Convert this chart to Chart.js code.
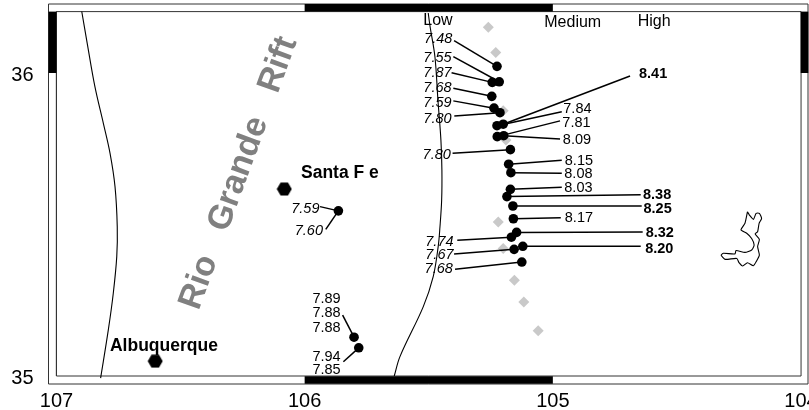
<!DOCTYPE html>
<html>
<head>
<meta charset="utf-8">
<style>
  html, body { margin: 0; padding: 0; background: #fff; overflow: hidden; }
  canvas { display: block; }
</style>
<script src="https://cdn.jsdelivr.net/npm/chart.js@4"></script>
</head>
<body>
<canvas id="map" width="809" height="410"></canvas>
<script>
// map extent, degrees (longitude runs west to east, so the axis is reversed)
const lonTicks = [107, 106, 105, 104];
const latTicks = [35, 36];
const lonWest = 107.032, lonEast = 103.972, latSouth = 34.9736, latNorth = 36.2277;
const innerWest = 107, innerEast = 104, innerSouth = 35, innerNorth = 36.2026;

// black circles: sampled stations
const stationLon = [105.225, 105.216, 105.244, 105.246, 105.237, 105.213, 105.200, 105.225, 105.198, 105.224, 105.171, 105.178, 105.169, 105.171, 105.185, 105.161, 105.159, 105.146, 105.167, 105.121, 105.156, 105.125, 105.864, 105.801, 105.782];
const stationLat = [36.022, 35.971, 35.969, 35.923, 35.884, 35.869, 35.831, 35.826, 35.793, 35.790, 35.747, 35.699, 35.671, 35.616, 35.592, 35.561, 35.519, 35.474, 35.458, 35.428, 35.418, 35.376, 35.545, 35.128, 35.093];

// grey diamonds
const diamondLon = [105.260, 105.230, 105.200, 105.189, 105.220, 105.200, 105.155, 105.117, 105.059];
const diamondLat = [36.151, 36.068, 35.875, 35.779, 35.508, 35.421, 35.316, 35.244, 35.149];

// cities
const cityNames = ["Santa F e", "Albuquerque"];
const cityLon = [106.082, 106.602];
const cityLat = [35.617, 35.049];
const cityLabelLon = [105.858, 106.567];
const cityLabelLat = [35.672, 35.101];

// values next to stations
const valueText = ["7.48", "7.55", "7.87", "7.68", "7.59", "7.80", "8.41", "7.84", "7.81", "8.09", "7.80", "8.15", "8.08", "8.03", "8.38", "8.25", "8.17", "8.32", "8.20", "7.74", "7.67", "7.68", "7.59", "7.60", "7.89", "7.88", "7.88", "7.94", "7.85"];
const valueClass = ["low", "low", "low", "low", "low", "low", "high", "med", "med", "med", "low", "med", "med", "med", "high", "high", "med", "high", "high", "low", "low", "low", "low", "low", "med", "med", "med", "med", "med"];
const valueLon = [105.462, 105.465, 105.465, 105.465, 105.465, 105.465, 104.596, 104.901, 104.905, 104.903, 105.468, 104.895, 104.897, 104.897, 104.580, 104.578, 104.895, 104.569, 104.571, 105.457, 105.457, 105.460, 105.997, 105.983, 105.912, 105.912, 105.912, 105.912, 105.912];
const valueLat = [36.115, 36.052, 36.002, 35.953, 35.905, 35.852, 35.999, 35.884, 35.837, 35.782, 35.733, 35.712, 35.670, 35.623, 35.601, 35.553, 35.524, 35.476, 35.423, 35.447, 35.403, 35.355, 35.555, 35.482, 35.256, 35.210, 35.163, 35.066, 35.023];

// leader lines, label end -> station index
const leaderStation = [0, 1, 2, 3, 4, 5, 6, 7, 9, 8, 10, 11, 12, 13, 14, 15, 16, 17, 18, 19, 20, 21, 22, 22, 23, 24];
const leaderLon = [105.398, 105.401, 105.408, 105.401, 105.401, 105.397, 104.689, 104.964, 104.971, 104.971, 105.404, 104.964, 104.964, 104.964, 104.646, 104.642, 104.968, 104.638, 105.385, 104.646, 105.398, 105.394, 105.938, 105.915, 105.847, 105.844];
const leaderLat = [36.107, 36.054, 36.001, 35.950, 35.908, 35.858, 35.990, 35.872, 35.842, 35.782, 35.735, 35.712, 35.669, 35.623, 35.598, 35.561, 35.522, 35.475, 35.448, 35.428, 35.403, 35.352, 35.559, 35.484, 35.201, 35.047];

// legend words along the top
const legendText = ["Low", "Medium", "High"];
const legendLon = [105.463, 104.920, 104.592];
const legendLat = [36.175, 36.170, 36.173];

// rift boundaries
const westRiftLon = [106.898, 106.876, 106.845, 106.811, 106.784, 106.764, 106.755, 106.757, 106.771, 106.791, 106.822];
const westRiftLat = [36.203, 36.098, 35.955, 35.834, 35.735, 35.625, 35.493, 35.394, 35.273, 35.152, 34.993];
const eastRiftLon = [105.502, 105.495, 105.475, 105.463, 105.451, 105.447, 105.448, 105.455, 105.462, 105.482, 105.522, 105.616, 105.639];
const eastRiftLat = [36.198, 36.155, 36.053, 35.911, 35.779, 35.680, 35.581, 35.490, 35.427, 35.328, 35.229, 35.064, 35.000];

// small closed outline on the east side
const outlineLon = [104.216, 104.208, 104.192, 104.181, 104.168, 104.159, 104.169, 104.175, 104.185, 104.168, 104.175, 104.168, 104.179, 104.192, 104.216, 104.235, 104.250, 104.259, 104.306, 104.322, 104.313, 104.266, 104.262, 104.226, 104.199, 104.189, 104.199, 104.219, 104.242, 104.226, 104.216];
const outlineLat = [35.542, 35.531, 35.517, 35.537, 35.537, 35.520, 35.504, 35.476, 35.469, 35.451, 35.427, 35.399, 35.380, 35.364, 35.374, 35.363, 35.374, 35.388, 35.385, 35.399, 35.405, 35.403, 35.414, 35.408, 35.416, 35.432, 35.454, 35.471, 35.482, 35.504, 35.542];

const riftLabel = "Rio   Grande   Rift";
const riftLabelLon = 106.265, riftLabelLat = 35.673;

const fontName = '"Liberation Sans", Arial, sans-serif';

const zip = (xs, ys) => xs.map((x, i) => ({ x, y: ys[i] }));

// hexagon marker for the cities
function makeHexagon() {
  const c = document.createElement("canvas");
  c.width = 16;
  c.height = 14;
  const g = c.getContext("2d");
  g.fillStyle = "#000";
  g.beginPath();
  g.moveTo(0.5, 7);
  g.lineTo(4.3, 0.4);
  g.lineTo(11.7, 0.4);
  g.lineTo(15.5, 7);
  g.lineTo(11.7, 13.6);
  g.lineTo(4.3, 13.6);
  g.closePath();
  g.fill();
  return c;
}

function line(data, color, width, extra) {
  return Object.assign({
    type: "scatter",
    data,
    showLine: true,
    borderColor: color,
    borderWidth: width,
    pointRadius: 0,
    fill: false,
    clip: false,
  }, extra);
}

const leaderSets = leaderStation.map((s, i) =>
  line([{ x: leaderLon[i], y: leaderLat[i] }, { x: stationLon[s], y: stationLat[s] }], "#000", 1.5)
);

const stripLat = latNorth - 0.0125, stripSouth = latSouth + 0.0132;
const stripWest = lonWest - 0.0161, stripEast = lonEast + 0.0141;

const datasets = [
  {
    type: "scatter",
    data: zip(cityLon, cityLat),
    pointStyle: makeHexagon(),
    pointRadius: 7,
    clip: false,
  },
  {
    type: "scatter",
    data: zip(stationLon, stationLat),
    pointStyle: "circle",
    pointRadius: 4.8,
    pointBorderWidth: 0,
    backgroundColor: "#000",
  },
  ...leaderSets,
  {
    type: "scatter",
    data: zip(diamondLon, diamondLat),
    pointStyle: "rectRot",
    pointRadius: 5.5,
    pointBorderWidth: 0,
    backgroundColor: "#c9c9c9",
  },
  line(zip(westRiftLon, westRiftLat), "#000", 1.1, { tension: 0.35 }),
  line(zip(eastRiftLon, eastRiftLat), "#000", 1.1, { tension: 0.35 }),
  line(zip(outlineLon, outlineLat), "#000", 1.1, { tension: 0.2 }),
  // black frame strips
  line(zip([106, 105], [stripLat, stripLat]), "#000", 7.6),
  line(zip([106, 105], [stripSouth, stripSouth]), "#000", 7.6),
  line(zip([stripWest, stripWest], [36, innerNorth]), "#000", 7.8),
  line(zip([stripEast, stripEast], [36, innerNorth]), "#000", 7.6),
  // inner and outer frame
  line(zip([innerWest, innerEast, innerEast, innerWest, innerWest], [innerSouth, innerSouth, innerNorth, innerNorth, innerSouth]), "#333", 1),
  line(zip([lonWest, lonEast, lonEast, lonWest, lonWest], [latSouth, latSouth, latNorth, latNorth, latSouth]), "#333", 1),
];

const mapText = {
  id: "mapText",
  afterDatasetsDraw(chart) {
    const { ctx, scales } = chart;
    const px = (lon) => scales.x.getPixelForValue(lon);
    const py = (lat) => scales.y.getPixelForValue(lat) + 1;
    ctx.save();
    ctx.textAlign = "center";
    ctx.textBaseline = "middle";

    ctx.fillStyle = "#000";
    valueText.forEach((t, i) => {
      const cls = valueClass[i];
      if (cls === "low") ctx.font = `italic 14.5px ${fontName}`;
      else if (cls === "high") ctx.font = `bold 14.5px ${fontName}`;
      else ctx.font = `14.5px ${fontName}`;
      ctx.fillText(t, px(valueLon[i]), py(valueLat[i]));
    });

    ctx.font = `16px ${fontName}`;
    legendText.forEach((t, i) => ctx.fillText(t, px(legendLon[i]), py(legendLat[i])));

    ctx.font = `bold 17.5px ${fontName}`;
    cityNames.forEach((t, i) => ctx.fillText(t, px(cityLabelLon[i]), py(cityLabelLat[i])));

    // rotated gray title following the rift
    ctx.translate(px(riftLabelLon), py(riftLabelLat));
    ctx.rotate(-70 * Math.PI / 180);
    ctx.fillStyle = "#808080";
    ctx.font = `bold 34px ${fontName}`;
    ctx.fillText(riftLabel, 0, 0);
    ctx.restore();
  },
};

// tick labels may overhang the plot, so the axes must not ask the layout for room
const noPadding = () => ({ left: 0, top: 0, right: 0, bottom: 0 });

new Chart(document.getElementById("map"), {
  type: "scatter",
  data: { datasets },
  plugins: [mapText],
  options: {
    responsive: false,
    animation: false,
    events: [],
    layout: { autoPadding: false, padding: { left: 0, top: 4, right: 1, bottom: 0 } },
    plugins: { legend: { display: false }, tooltip: { enabled: false } },
    scales: {
      x: {
        type: "linear",
        reverse: true,
        min: lonEast,
        max: lonWest,
        grid: { display: false, drawTicks: false },
        border: { display: false },
        afterBuildTicks(axis) { axis.ticks = lonTicks.map((value) => ({ value })); },
        afterFit(axis) {
          axis.height = 26;
          axis.getPadding = noPadding;
        },
        ticks: {
          autoSkip: false,
          maxRotation: 0,
          padding: 5,
          color: "#000",
          font: { family: fontName, size: 20 },
          callback: (v) => String(v),
        },
      },
      y: {
        type: "linear",
        min: latSouth,
        max: latNorth,
        grid: { display: false, drawTicks: false },
        border: { display: false },
        afterBuildTicks(axis) { axis.ticks = latTicks.map((value) => ({ value })); },
        afterFit(axis) {
          axis.width = 48.5;
          axis.getPadding = noPadding;
        },
        ticks: {
          padding: 15,
          labelOffset: 2,
          color: "#000",
          font: { family: fontName, size: 20 },
          callback: (v) => String(v),
        },
      },
    },
  },
});
</script>
</body>
</html>
